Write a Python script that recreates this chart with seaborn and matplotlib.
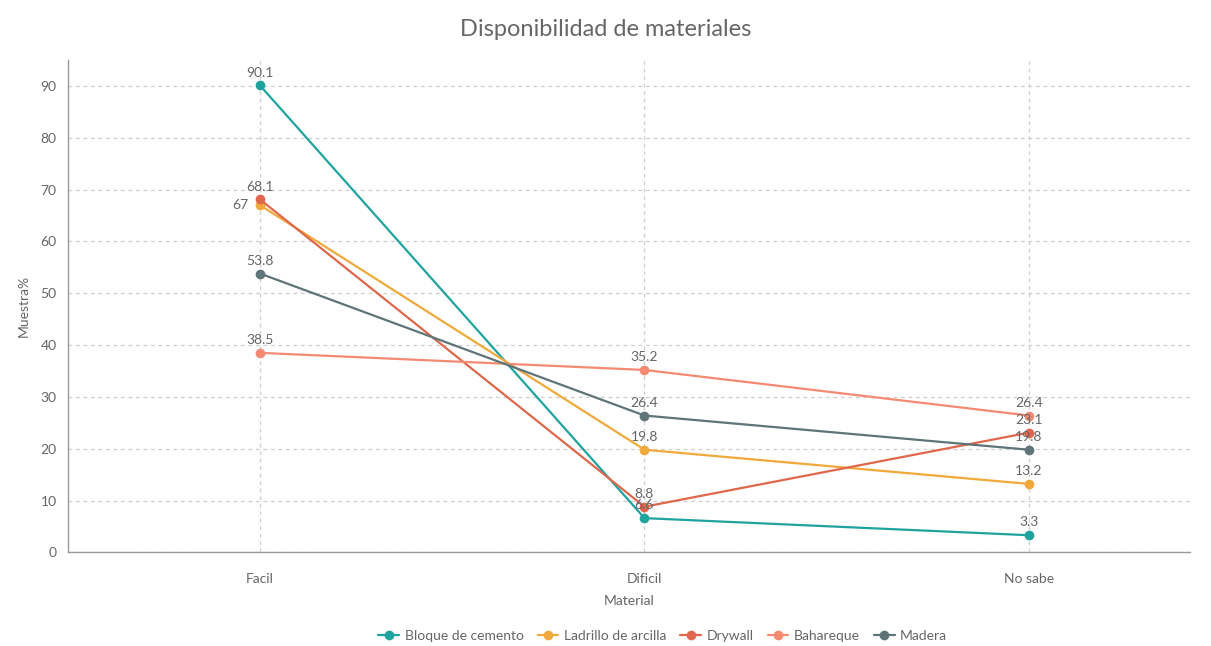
import matplotlib
matplotlib.use("Agg")
import matplotlib.pyplot as plt
import seaborn as sns
import pandas as pd

categories = ["Facil", "Dificil", "No sabe"]
bloque_cemento = [90.1, 6.6, 3.3]
ladrillo_arcilla = [67, 19.8, 13.2]
drywall = [68.1, 8.8, 23.1]
bahareque = [38.5, 35.2, 26.4]
madera = [53.8, 26.4, 19.8]

series_names = ["Bloque de cemento", "Ladrillo de arcilla", "Drywall", "Bahareque", "Madera"]
series_values = [bloque_cemento, ladrillo_arcilla, drywall, bahareque, madera]
colors = ["#1fa39f", "#f2a93b", "#e0674c", "#f58a73", "#5e7479"]

rows = []
for name, vals in zip(series_names, series_values):
    for i, (cat, v) in enumerate(zip(categories, vals)):
        rows.append({"Material": cat, "pos": i, "Serie": name, "valor": v})
df = pd.DataFrame(rows)

sns.set_theme(style="white")
plt.rcParams["font.family"] = ["Lato", "DejaVu Sans"]

fig, ax = plt.subplots(figsize=(12.11, 6.46), dpi=100)
fig.subplots_adjust(left=0.056, right=0.983, top=0.907, bottom=0.145)

sns.lineplot(data=df, x="pos", y="valor", hue="Serie", hue_order=series_names,
             palette=colors, marker="o", markersize=7, markeredgewidth=0,
             linewidth=1.6, ax=ax, legend=True)

# crowded labels get a small sideways nudge so they stay readable
nudges = {("Ladrillo de arcilla", 0): (-14, -4)}
for name, vals, c in zip(series_names, series_values, colors):
    for i, v in enumerate(vals):
        off = nudges.get((name, i), (0, 5))
        ax.annotate(f"{v:g}", (i, v), xytext=off, textcoords="offset points",
                    ha="center", va="bottom", fontsize=10, color="#666666")

ax.set_xlim(-0.5, 2.42)
ax.set_ylim(0, 95)
ax.set_xticks(range(len(categories)))
ax.set_xticklabels(categories)
ax.set_yticks(range(0, 100, 10))
ax.tick_params(axis="x", labelsize=10, colors="#666666", length=0, pad=15)
ax.tick_params(axis="y", labelsize=10, colors="#666666", length=0, pad=8)
ax.grid(True, linestyle=(0, (3, 3)), color="#cfcfcf", linewidth=0.9)
for s in ["top", "right"]:
    ax.spines[s].set_visible(False)
for s in ["left", "bottom"]:
    ax.spines[s].set_color("#999999")
    ax.spines[s].set_linewidth(1.0)

ax.set_xlabel("Material", fontsize=10, color="#666666", labelpad=7)
ax.set_ylabel("Muestra%", fontsize=10, color="#666666", labelpad=8)
fig.suptitle("Disponibilidad de materiales", fontsize=17, color="#666666", y=0.97)

handles, labels = ax.get_legend_handles_labels()
ax.legend(handles, labels, loc="upper center", bbox_to_anchor=(0.53, -0.133),
          ncol=5, frameon=False, fontsize=10, handlelength=1.5,
          handletextpad=0.4, columnspacing=1.0, labelcolor="#666666")

fig.savefig("out.png", dpi=100, facecolor="white")
